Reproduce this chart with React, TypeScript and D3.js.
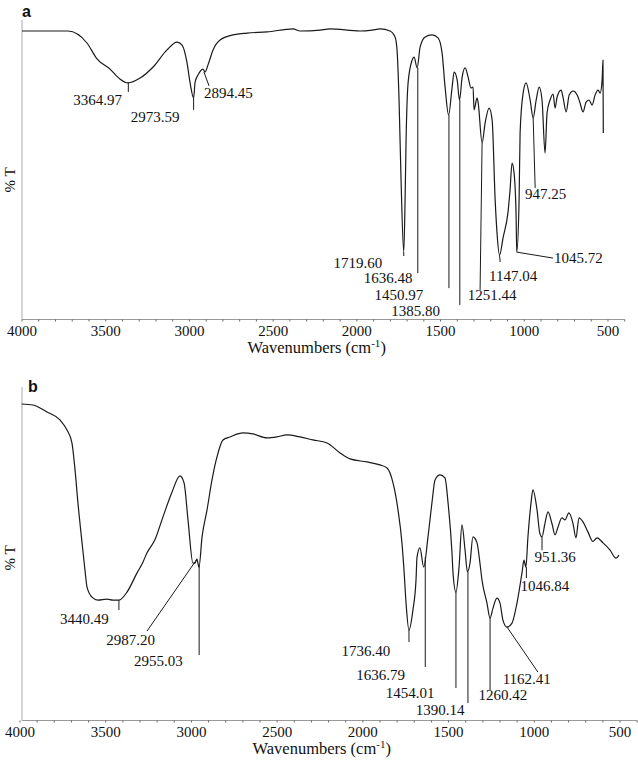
import React from 'react';
import * as d3 from 'd3';

// Spectrum a: [wavenumber (cm-1), %T]
const spectrumA: [number, number][] = [
  [4000, 96], [3725, 96], [3612, 92], [3552, 86.7], [3474, 83.3], [3415, 80], [3367, 78.7],
  [3295, 80.3], [3217, 84], [3134, 89.7], [3074, 92.3], [3044, 91.3], [3014, 85.3], [2996, 78.7],
  [2975, 73.7], [2966, 79], [2949, 81.3], [2919, 83.3], [2907, 82.3], [2889, 84.7], [2859, 89.7],
  [2817, 93], [2740, 94.7], [2656, 95.3], [2536, 95.7], [2381, 96.7], [2339, 96], [2220, 96.3],
  [2160, 96.7], [1981, 96], [1909, 96.3], [1861, 96.7], [1802, 96], [1772, 94], [1760, 89.7],
  [1748, 73], [1736, 46.3], [1720, 22.3], [1712, 39.7], [1706, 59.7], [1694, 78.7], [1670, 86.3],
  [1658, 87.3], [1640, 83.7], [1622, 90.7], [1592, 94], [1551, 94.7], [1515, 93.7], [1491, 88.7],
  [1473, 77.3], [1452, 68], [1431, 77.3], [1419, 82.3], [1401, 79.7], [1387, 73], [1371, 80.7],
  [1353, 83.7], [1336, 80.7], [1318, 77], [1306, 77.3], [1300, 69.7], [1282, 73.7], [1276, 72.3],
  [1252, 58.7], [1234, 65.3], [1210, 70.3], [1192, 66.3], [1174, 39.7], [1162, 28], [1148, 21.3],
  [1126, 27.3], [1097, 35.7], [1085, 43], [1073, 52], [1061, 48.7], [1049, 34.7], [1045, 22.3],
  [1031, 39.7], [1025, 62], [1007, 75.3], [989, 78.7], [965, 73], [947, 67], [929, 73], [911, 77.3],
  [894, 73], [876, 55.3], [864, 68.7], [846, 73], [828, 75], [816, 70.3], [804, 74], [780, 76.3],
  [768, 73.7], [750, 69], [732, 74.7], [708, 76], [684, 74.7], [667, 72], [649, 69], [631, 72.3],
  [613, 73], [595, 71.3], [577, 74.7], [559, 76.3], [547, 75.3], [535, 79.7], [530, 86.3], [528, 62],
];

// Spectrum b: [wavenumber (cm-1), %T]
const spectrumB: [number, number][] = [
  [3990, 94.9], [3924, 94.6], [3843, 92.5], [3767, 90.1], [3726, 87.1], [3697, 83.2], [3679, 75.1],
  [3662, 65.2], [3638, 53.2], [3621, 45], [3609, 39.9], [3580, 36.9], [3545, 36], [3493, 36.3],
  [3458, 36], [3423, 36], [3376, 38.4], [3318, 44.1], [3283, 47.4], [3259, 50.2], [3213, 54.1],
  [3166, 61], [3113, 68.5], [3067, 73.3], [3043, 71.2], [3020, 60.1], [2991, 47.1], [2979, 47.1],
  [2968, 48.3], [2956, 45.9], [2938, 55], [2909, 63.1], [2880, 72.1], [2851, 79], [2816, 84.1],
  [2775, 85], [2699, 86.2], [2641, 85.9], [2559, 84.7], [2501, 85], [2443, 85.6], [2367, 85],
  [2291, 84.1], [2209, 83.2], [2133, 80.2], [2075, 78.4], [1976, 77.5], [1900, 76.6], [1859, 75.7],
  [1824, 71.2], [1795, 63.1], [1772, 53.2], [1760, 45], [1748, 35.1], [1731, 27], [1708, 33],
  [1690, 42], [1684, 48.9], [1667, 51.7], [1645, 45.9], [1620, 55], [1597, 65.2], [1579, 72.1],
  [1550, 73.6], [1521, 72.7], [1503, 65.2], [1480, 50.2], [1474, 44.1], [1457, 38.4], [1439, 45.9],
  [1422, 58.6], [1404, 51.1], [1390, 44.5], [1375, 47.1], [1358, 55], [1334, 53.2], [1317, 47.1],
  [1305, 42], [1276, 35.1], [1258, 30.6], [1241, 33.6], [1218, 36.6], [1200, 35.1], [1183, 30],
  [1159, 27.9], [1130, 29.1], [1101, 35.1], [1072, 44.1], [1060, 48], [1049, 45.9], [1037, 55],
  [1019, 65.2], [1008, 69.1], [984, 63.1], [967, 55.9], [955, 55], [938, 59], [920, 62.5],
  [897, 59], [879, 55.6], [862, 57.9], [839, 60.7], [821, 60.1], [798, 62.2], [774, 59],
  [757, 54.7], [739, 60.7], [716, 59.5], [687, 56.5], [658, 53.6], [634, 54.7], [599, 53.2],
  [559, 51.1], [523, 48.6], [506, 49.5],
];

const xTickLabels = [4000, 3500, 3000, 2500, 2000, 1500, 1000, 500];
const minorTicks = d3.range(4000, 399, -100);

type Peak = { label: string; line: [number, number, number, number]; text: [number, number]; anchor: string };

// Peak annotations for a: leader line from (w1,T1) to (w2,T2), label at (w,T)
const peaksA: Peak[] = [
  { label: '3364.97', line: [3365, 78.7, 3365, 75.7], text: [3549, 71.3], anchor: 'middle' },
  { label: '2973.59', line: [2975, 73.7, 2975, 69.7], text: [3205, 65.7], anchor: 'middle' },
  { label: '2894.45', line: [2913, 82.3, 2883, 77.7], text: [2913, 73.7], anchor: 'start' },
  { label: '1719.60', line: [1720, 22.3, 1720, 21], text: [1849, 17], anchor: 'end' },
  { label: '1636.48', line: [1636, 83.7, 1636, 15.3], text: [1668, 12], anchor: 'end' },
  { label: '1450.97', line: [1450, 68, 1450, 10.3], text: [1604, 6.3], anchor: 'end' },
  { label: '1385.80', line: [1385, 73, 1385, 4.7], text: [1503, 1], anchor: 'end' },
  { label: '1251.44', line: [1252, 58.7, 1264, 9.7], text: [1192, 6.3], anchor: 'middle' },
  { label: '1147.04', line: [1148, 21.3, 1144, 19], text: [1067, 12.7], anchor: 'middle' },
  { label: '1045.72', line: [1045, 22.3, 828, 20.3], text: [822, 18.7], anchor: 'start' },
  { label: '947.25', line: [947, 67, 935, 43.7], text: [873, 40], anchor: 'middle' },
];

const peaksB: Peak[] = [
  { label: '3440.49', line: [3423, 36, 3423, 33], text: [3624, 28.8], anchor: 'middle' },
  { label: '2987.20', line: [2968, 48.3, 3259, 26.7], text: [3355, 22.5], anchor: 'middle' },
  { label: '2955.03', line: [2955, 46.5, 2955, 19.5], text: [3193, 16.2], anchor: 'middle' },
  { label: '1736.40', line: [1731, 27, 1731, 23.4], text: [1982, 19.2], anchor: 'middle' },
  { label: '1636.79', line: [1636, 49, 1636, 15.9], text: [1897, 12], anchor: 'middle' },
  { label: '1454.01', line: [1457, 38.4, 1457, 9.6], text: [1725, 6.6], anchor: 'middle' },
  { label: '1390.14', line: [1387, 44.5, 1387, 5.1], text: [1550, 1.5], anchor: 'middle' },
  { label: '1260.42', line: [1258, 30.6, 1258, 9], text: [1183, 6], anchor: 'middle' },
  { label: '1162.41', line: [1159, 27.9, 979, 14.4], text: [1044, 10.8], anchor: 'middle' },
  { label: '1046.84', line: [1046, 45.9, 1046, 42.6], text: [938, 38.7], anchor: 'middle' },
  { label: '951.36', line: [955, 55, 955, 51], text: [879, 47.4], anchor: 'middle' },
];

const FONT = '"Liberation Serif", "Times New Roman", serif';

type PanelProps = {
  letter: string;
  data: [number, number][];
  peaks: Peak[];
  xRange: [number, number];
  yRange: [number, number];
  axisTop: number;
  letterY: number;
  letterX: number;
  yTitleY: number;
};

function Panel({ letter, data, peaks, xRange, yRange, axisTop, letterY, letterX, yTitleY }: PanelProps) {
  const x = d3.scaleLinear().domain([4000, 500]).range(xRange);
  const y = d3.scaleLinear().domain([0, 100]).range(yRange);
  const axisY = y(0) + 0.5;
  const yAxisX = 22;
  const line = d3
    .line<[number, number]>()
    .x((d) => x(d[0]))
    .y((d) => y(d[1]))
    .curve(d3.curveMonotoneX);
  return (
    <g>
      <text x={letterX} y={letterY} fontFamily='"Liberation Sans", Arial, sans-serif' fontWeight="bold" fontSize={16} fill="#111">
        {letter}
      </text>
      <line x1={yAxisX} x2={yAxisX} y1={axisTop} y2={axisY} stroke="#aaa" strokeWidth={1} />
      <line x1={yAxisX} x2={x(400)} y1={axisY} y2={axisY} stroke="#999" strokeWidth={1} />
      {minorTicks.map((t) => (
        <line key={t} x1={x(t)} x2={x(t)} y1={axisY} y2={axisY + 2} stroke="#666" strokeWidth={1} />
      ))}
      {xTickLabels.map((t) => (
        <text key={t} x={x(t)} y={axisY + 16} textAnchor="middle" fontFamily={FONT} fontSize={15} fill="#111">
          {t}
        </text>
      ))}
      <text x={x(2240)} y={axisY + 33} textAnchor="middle" fontFamily={FONT} fontSize={16.5} fill="#111">
        Wavenumbers (cm
        <tspan fontSize={11} dy={-6}>-1</tspan>
        <tspan dy={6}>)</tspan>
      </text>
      <text
        transform={`translate(15, ${yTitleY}) rotate(-90)`}
        textAnchor="middle"
        fontFamily={FONT}
        fontSize={15}
        fill="#111"
      >
        % T
      </text>
      <path d={line(data) || ''} fill="none" stroke="#1a1a1a" strokeWidth={1.2} strokeLinejoin="round" />
      {peaks.map((p) => (
        <g key={p.label}>
          <line x1={x(p.line[0])} y1={y(p.line[1])} x2={x(p.line[2])} y2={y(p.line[3])} stroke="#1a1a1a" strokeWidth={1} />
          <text x={x(p.text[0])} y={y(p.text[1])} textAnchor={p.anchor as any} fontFamily={FONT} fontSize={15} fill="#111">
            {p.label}
          </text>
        </g>
      ))}
    </g>
  );
}

export default function App() {
  return (
    <svg
      width={638}
      height={760}
      style={{ position: 'absolute', left: 0, top: 0, background: '#fff' }}
    >
      <rect width={638} height={760} fill="#fff" />
      <Panel
        letter="a"
        data={spectrumA}
        peaks={peaksA}
        xRange={[22, 608]}
        yRange={[319, 19]}
        axisTop={20}
        letterY={17}
        letterX={22}
        yTitleY={180}
      />
      <Panel
        letter="b"
        data={spectrumB}
        peaks={peaksB}
        xRange={[20, 620]}
        yRange={[720, 387]}
        axisTop={387}
        letterY={392}
        letterX={28}
        yTitleY={558}
      />
    </svg>
  );
}
